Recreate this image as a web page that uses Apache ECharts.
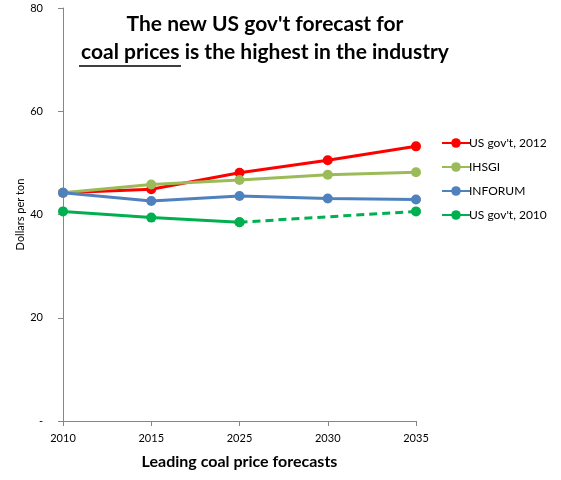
<!DOCTYPE html>
<html>
<head>
<meta charset="utf-8">
<script src="https://cdn.jsdelivr.net/npm/echarts@6/dist/echarts.min.js"></script>
<style>
  html, body { margin: 0; padding: 0; background: #fff; }
  #chart { width: 561px; height: 480px; }
</style>
</head>
<body>
<div id="chart"></div>
<script>
// 数据
var years = ['2010', '2015', '2025', '2030', '2035'];
var usGov2012 = [44.2, 44.9, 48.1, 50.5, 53.2];
var ihsgi = [44.2, 45.8, 46.7, 47.7, 48.2];
var inforum = [44.2, 42.6, 43.6, 43.1, 42.9];
var usGov2010 = [40.6, 39.4, 38.5, '-', '-'];
var usGov2010Proj = ['-', '-', 38.5, '-', 40.6];
var yTickLabels = ['-', '20', '40', '60', '80'];

var myChart = echarts.init(document.getElementById('chart'));
var font = 'Lato, "Open Sans", sans-serif';

function lineSeries(name, data, color, dashed) {
    return {
        name: name,
        type: 'line',
        data: data,
        symbol: 'circle',
        symbolSize: 10,
        showAllSymbol: true,
        connectNulls: true,
        itemStyle: { color: color },
        lineStyle: { color: color, width: 3, type: dashed ? [8, 5] : 'solid' },
        emphasis: { disabled: true },
        z: dashed ? 1 : 2
    };
}

var option = {
    animation: false,
    title: {
        text: "The new US gov't forecast for\n{u|coal prices }is the highest in the industry",
        left: 260,
        top: 5,
        textAlign: 'center',
        textStyle: {
            fontFamily: font,
            fontSize: 21,
            fontWeight: 'bold',
            color: '#000',
            lineHeight: 28,
            rich: {
                u: { fontFamily: font, fontSize: 21, fontWeight: 'bold', color: '#000', lineHeight: 28 }
            }
        }
    },
    graphic: [{
        type: 'line',
        shape: { x1: 79, y1: 66, x2: 181, y2: 66 },
        style: { stroke: '#000', lineWidth: 1.5 }
    }],
    legend: {
        orient: 'vertical',
        left: 436,
        top: 132,
        itemGap: 12,
        itemWidth: 28,
        itemHeight: 12,
        data: ["US gov't, 2012", 'IHSGI', 'INFORUM', "US gov't, 2010"],
        textStyle: { fontFamily: font, fontSize: 12, color: '#000', padding: [0, 0, 0, -6] }
    },
    grid: { left: 63, right: 145, top: 8, bottom: 59, outerBoundsMode: 'none' },
    xAxis: {
        type: 'category',
        data: years,
        boundaryGap: false,
        name: 'Leading coal price forecasts',
        nameLocation: 'middle',
        nameGap: 33,
        nameMoveOverlap: false,
        nameTextStyle: { fontFamily: font, fontSize: 16, fontWeight: 'bold', color: '#000' },
        axisLine: { lineStyle: { color: '#868686', width: 1 } },
        axisTick: { show: true, alignWithLabel: true, length: 5, lineStyle: { color: '#868686' } },
        axisLabel: { fontFamily: font, fontSize: 11, color: '#000', margin: 12 },
        splitLine: { show: false }
    },
    yAxis: {
        type: 'value',
        min: 0,
        max: 80,
        interval: 20,
        name: 'Dollars per ton',
        nameLocation: 'middle',
        nameGap: 37,
        nameMoveOverlap: false,
        nameTextStyle: { fontFamily: font, fontSize: 11, color: '#000' },
        axisLine: { show: true, lineStyle: { color: '#868686', width: 1 } },
        axisTick: { show: true, length: 5, lineStyle: { color: '#868686' } },
        axisLabel: {
            fontFamily: font, fontSize: 11, color: '#000', margin: 20,
            formatter: function (v) { return yTickLabels[Math.round(v / 20)]; }
        },
        splitLine: { show: false }
    },
    series: [
        lineSeries("US gov't, 2012", usGov2012, '#FF0000'),
        lineSeries('IHSGI', ihsgi, '#9BBB59'),
        lineSeries('INFORUM', inforum, '#4F81BD'),
        lineSeries("US gov't, 2010", usGov2010, '#00B050'),
        lineSeries("US gov't, 2010 projected", usGov2010Proj, '#00B050', true)
    ]
};

myChart.setOption(option);
</script>
</body>
</html>
